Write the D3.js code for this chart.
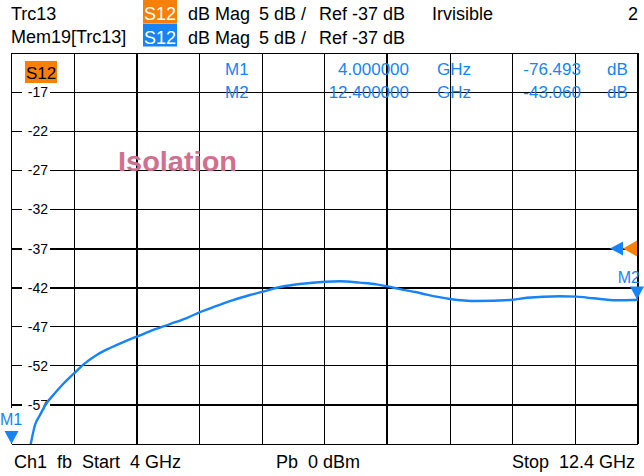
<!DOCTYPE html>
<html>
<head>
<meta charset="utf-8">
<script src="https://cdn.jsdelivr.net/npm/d3@7"></script>
<style>
body { margin: 0; background: #fff; }
svg { display: block; font-family: "Liberation Sans", Arial, sans-serif; }
text { white-space: pre; }
</style>
</head>
<body>
<div id="content"></div>
<script>
// trace data (S12, dB Mag)
const freqGHz = [4.000, 4.257, 4.315, 4.382, 4.472, 4.560, 4.695, 4.842, 4.963, 5.142,
    5.321, 5.499, 5.679, 5.901, 6.125, 6.349, 6.527, 6.751, 6.970, 7.198,
    7.355, 7.623, 7.868, 8.203, 8.404, 8.672, 8.897, 9.031, 9.209, 9.433,
    9.567, 9.879, 10.237, 10.684, 10.908, 11.354, 11.578, 11.801, 12.115, 12.337, 12.400];
const magDb = [-76.493, -62.04, -59.57, -58.29, -56.76, -55.74, -54.30, -52.95, -51.85, -50.62,
    -49.72, -48.96, -48.28, -47.42, -46.66, -45.89, -45.15, -44.35, -43.60, -42.95,
    -42.55, -41.89, -41.54, -41.25, -41.19, -41.37, -41.58, -41.82, -42.20, -42.60,
    -42.90, -43.45, -43.72, -43.59, -43.30, -43.10, -43.16, -43.37, -43.62, -43.59, -43.52];

const yTickLabels = [-17, -22, -27, -32, -37, -42, -47, -52, -57];
const markerNames = ['M1', 'M2'];
const markerFreq = [4.0, 12.4];
const markerFreqText = ['4.000000', '12.400000'];
const markerValText = ['-76.493', '-43.060'];
const refLevel = -37;
const startGHz = 4, stopGHz = 12.4;

const width = 644, height = 476;
const blue = '#1784f5', orange = '#f98008';

function init() {
    const svg = d3.select('#content').append('svg')
        .attr('width', width).attr('height', height);

    const x = d3.scaleLinear().domain([startGHz, stopGHz]).range([11.5, 638]);
    const y = d3.scaleLinear().domain([-62, -12]).range([444, 53]);

    // header
    const head = svg.append('g').attr('font-size', 18).attr('fill', '#000');
    head.append('text').attr('x', 11).attr('y', 20).text('Trc13');
    head.append('text').attr('x', 11).attr('y', 43).text('Mem19[Trc13]');
    [[orange, 0], [blue, 23.5]].forEach(([c, top], i) => {
        head.append('rect').attr('x', 143).attr('y', top).attr('width', 34).attr('height', 23).attr('fill', c);
        head.append('text').attr('x', 160).attr('y', top + 20).attr('text-anchor', 'middle')
            .attr('fill', '#fff').text('S12');
        head.append('text').attr('x', 188).attr('y', top + 20).text('dB Mag');
        head.append('text').attr('x', 259).attr('y', top + 20).text('5 dB /');
        head.append('text').attr('x', 319).attr('y', top + 20).text('Ref -37 dB');
    });
    head.append('text').attr('x', 432).attr('y', 20).text('Irvisible');
    head.append('text').attr('x', 638).attr('y', 20).attr('text-anchor', 'end').text('2');

    // grid
    const grid = svg.append('g').attr('stroke', '#000').attr('shape-rendering', 'crispEdges');
    const xGrid = d3.range(11).map(i => startGHz + i * (stopGHz - startGHz) / 10);
    const yGrid = d3.range(-62, -11, 5);
    const thickX = [2, 6, 10];
    const thickY = [-37, -42, -57];
    grid.selectAll('line.v').data(xGrid).enter().append('line').attr('class', 'v')
        .attr('x1', d => x(d)).attr('x2', d => x(d))
        .attr('y1', y(-12)).attr('y2', y(-62))
        .attr('stroke-width', (d, i) => thickX.includes(i) ? 2 : 1);
    grid.selectAll('line.h').data(yGrid).enter().append('line').attr('class', 'h')
        .attr('x1', x(startGHz)).attr('x2', x(stopGHz))
        .attr('y1', d => y(d)).attr('y2', d => y(d))
        .attr('stroke-width', d => thickY.includes(d) ? 2 : 1);

    // y labels on white patches
    const yl = svg.append('g').attr('font-size', 14);
    yl.selectAll('rect').data(yTickLabels).enter().append('rect')
        .attr('x', 22).attr('y', d => y(d) - 3).attr('width', 28).attr('height', 6).attr('fill', '#fff');
    yl.selectAll('text').data(yTickLabels).enter().append('text')
        .attr('x', 48).attr('y', d => y(d) + 5).attr('text-anchor', 'end').text(d => d);

    // S12 tag in plot
    svg.append('rect').attr('x', 25).attr('y', 61).attr('width', 32).attr('height', 22).attr('fill', orange);
    svg.append('text').attr('x', 41).attr('y', 79).attr('text-anchor', 'middle')
        .attr('font-size', 17).text('S12');

    // title
    svg.append('text').attr('x', 118).attr('y', 171).attr('font-size', 27).attr('font-weight', 'bold')
        .attr('fill', '#d0708f').attr('textLength', 119).attr('lengthAdjust', 'spacingAndGlyphs')
        .text('Isolation');

    // marker readouts
    const mr = svg.append('g').attr('font-size', 17).attr('fill', blue);
    markerNames.forEach((m, i) => {
        const by = 75 + i * 23;
        mr.append('text').attr('x', 225).attr('y', by).text(m);
        mr.append('text').attr('x', 409).attr('y', by).attr('text-anchor', 'end').text(markerFreqText[i]);
        mr.append('text').attr('x', 437).attr('y', by).text('GHz');
        mr.append('text').attr('x', 581).attr('y', by).attr('text-anchor', 'end').text(markerValText[i]);
        mr.append('text').attr('x', 607).attr('y', by).text('dB');
    });

    // trace
    svg.append('clipPath').attr('id', 'clip').append('rect')
        .attr('x', x(startGHz)).attr('y', y(-12))
        .attr('width', x(stopGHz) - x(startGHz)).attr('height', y(-62) - y(-12));
    const pts = freqGHz.map((f, i) => [f, magDb[i]]);
    svg.append('path').datum(pts)
        .attr('clip-path', 'url(#clip)')
        .attr('fill', 'none').attr('stroke', blue).attr('stroke-width', 2.4)
        .attr('d', d3.line().x(d => x(d[0])).y(d => y(d[1])).curve(d3.curveMonotoneX));

    // ref level arrows
    const ry = y(refLevel);
    svg.append('path').attr('fill', blue)
        .attr('d', `M610,${ry}L623,${ry - 7}L623,${ry + 7}Z`);
    svg.append('path').attr('fill', orange)
        .attr('d', `M623,${ry}L637,${ry - 8}L637,${ry + 8}Z`);

    // markers
    const yClamp = v => Math.max(y.range()[1], Math.min(y.range()[0], y(v)));
    const mvals = [magDb[0], magDb[magDb.length - 1]];
    markerNames.forEach((m, i) => {
        const mx = Math.min(x(markerFreq[i]), 637);
        const my = yClamp(mvals[i]);
        svg.append('path').attr('fill', blue)
            .attr('d', `M${mx},${my}L${mx - 7},${my - 13}L${mx + 7},${my - 13}Z`);
        if (i === 0) {
            svg.append('rect').attr('x', 1).attr('y', 408).attr('width', 20).attr('height', 23).attr('fill', '#fff');
            svg.append('text').attr('x', 11).attr('y', 425).attr('text-anchor', 'middle')
                .attr('font-size', 16).attr('fill', blue).text(m);
        } else {
            svg.append('text').attr('x', 640).attr('y', my - 16).attr('text-anchor', 'end')
                .attr('font-size', 16).attr('fill', blue).text(m);
        }
    });

    // footer
    const foot = svg.append('g').attr('font-size', 18);
    foot.append('text').attr('x', 14).attr('y', 468).text('Ch1  fb  Start  ' + startGHz + ' GHz');
    foot.append('text').attr('x', 276).attr('y', 468).text('Pb  0 dBm');
    foot.append('text').attr('x', 635).attr('y', 468).attr('text-anchor', 'end').text('Stop  ' + stopGHz + ' GHz');
}

init();
</script>
</body>
</html>
